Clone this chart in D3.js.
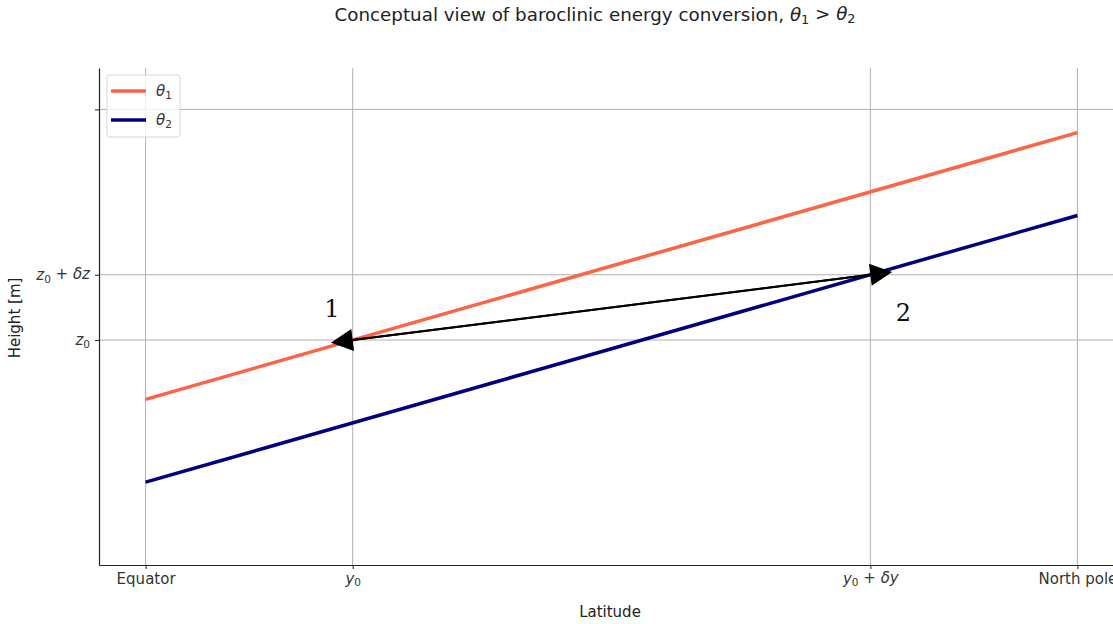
<meta charset="UTF-8">
<head>
  <script src="https://d3js.org/d3.v7.min.js"></script>
  <style>
    body { margin: 0; background: #fff; }
    svg { font-family: "DejaVu Sans", sans-serif; }
  </style>
</head>
<body>
<svg id="svg" width="1113" height="624"></svg>
<script>
  // data (latitude in degrees, height in arbitrary units)
  const latitude = [0, 90];
  const theta1 = [5, 13.05];
  const theta2 = [2.5, 10.55];
  const xTicks = [0, 20, 70, 90];
  const xTickLabels = [["Equator"], ["y", "0"], ["y", "0", " + δy"], ["North pole"]];
  const yTicks = [6.79, 8.76, 13.75];
  const yTickLabels = [["z", "0"], ["z", "0", " + δz"], [""]];
  // arrows: [from latitude, from height, to latitude, to height]
  const arrows = [[20, 6.79, 70, 8.76], [70, 8.76, 20, 6.79]];
  const pointLabels = ["1", "2"];
  const pointLabelPos = [[18, 7.69], [73.2, 7.57]];

  const svg = d3.select("#svg");
  const x = d3.scaleLinear().domain([-4.5, 94.5]).range([99, 1124]);
  const y = d3.scaleLinear().domain([0, 15]).range([565, 68]);

  // grid
  svg.append("g").selectAll("line").data(xTicks).join("line")
    .attr("x1", d => x(d)).attr("x2", d => x(d))
    .attr("y1", y(15)).attr("y2", y(0))
    .attr("stroke", "#b0b0b0").attr("stroke-width", 1);
  svg.append("g").selectAll("line").data(yTicks).join("line")
    .attr("x1", x(-4.5)).attr("x2", x(94.5))
    .attr("y1", d => y(d)).attr("y2", d => y(d))
    .attr("stroke", "#b0b0b0").attr("stroke-width", 1);

  // math-ish labels: italic letter, subscript, rest
  function mathLabel(sel, parts) {
    sel.text(null);
    if (parts.length === 1) { sel.text(parts[0]); return; }
    sel.append("tspan").attr("font-style", "italic").text(parts[0]);
    sel.append("tspan").attr("font-size", "0.7em").attr("dy", "0.25em").text(parts[1]);
    if (parts[2]) {
      const rest = parts[2];
      sel.append("tspan").attr("dy", "-0.25em").text(rest.slice(0, 3));
      sel.append("tspan").attr("font-style", "italic").text(rest.slice(3));
    }
  }

  // axes
  const xAxis = svg.append("g").attr("transform", `translate(0,${y(0)})`)
    .call(d3.axisBottom(x).tickValues(xTicks).tickSizeInner(4).tickSizeOuter(0).tickPadding(4))
    .attr("font-size", 15).attr("font-family", "DejaVu Sans");
  xAxis.select(".domain").attr("stroke", "#222").attr("stroke-width", 1.2);
  xAxis.selectAll(".tick line").attr("stroke", "#222");
  xAxis.selectAll(".tick text").attr("fill", "#333")
    .each(function (d, i) { mathLabel(d3.select(this), xTickLabels[i]); });

  const yAxis = svg.append("g").attr("transform", `translate(${x(-4.5)},0)`)
    .call(d3.axisLeft(y).tickValues(yTicks).tickSizeInner(4).tickSizeOuter(0).tickPadding(5))
    .attr("font-size", 15).attr("font-family", "DejaVu Sans");
  yAxis.select(".domain").attr("stroke", "#222").attr("stroke-width", 1.2);
  yAxis.selectAll(".tick line").attr("stroke", "#222");
  yAxis.selectAll(".tick text").attr("fill", "#333")
    .each(function (d, i) { mathLabel(d3.select(this), yTickLabels[i]); });

  // lines
  const line = d3.line().x(d => x(d[0])).y(d => y(d[1]));
  svg.append("path").datum(d3.zip(latitude, theta1)).attr("d", line)
    .attr("fill", "none").attr("stroke", "#ff6347").attr("stroke-width", 3.5);
  svg.append("path").datum(d3.zip(latitude, theta2)).attr("d", line)
    .attr("fill", "none").attr("stroke", "#000080").attr("stroke-width", 3.5);

  // arrows (head drawn past the end point)
  const headLen = 22, headW = 22;
  arrows.forEach(a => {
    const x0 = x(a[0]), y0 = y(a[1]), x1 = x(a[2]), y1 = y(a[3]);
    const L = Math.hypot(x1 - x0, y1 - y0), ux = (x1 - x0) / L, uy = (y1 - y0) / L;
    svg.append("line").attr("x1", x0).attr("y1", y0).attr("x2", x1).attr("y2", y1)
      .attr("stroke", "#000").attr("stroke-width", 2);
    const tip = [x1 + ux * headLen, y1 + uy * headLen];
    const b1 = [x1 - uy * headW / 2, y1 + ux * headW / 2];
    const b2 = [x1 + uy * headW / 2, y1 - ux * headW / 2];
    svg.append("polygon").attr("points", [tip, b1, b2].map(p => p.join(",")).join(" "))
      .attr("fill", "#000");
  });

  svg.selectAll(".plabel").data(pointLabels).join("text")
    .attr("x", (d, i) => x(pointLabelPos[i][0])).attr("y", (d, i) => y(pointLabelPos[i][1]))
    .attr("text-anchor", "middle").attr("dominant-baseline", "middle")
    .style("font-family", "'DejaVu Serif', serif").style("font-size", "24px").attr("fill", "#111")
    .text(d => d);

  // title and axis labels
  svg.append("text").attr("x", 595).attr("y", 21).attr("text-anchor", "middle")
    .style("font-size", "18.3px").attr("fill", "#222")
    .call(t => {
      t.append("tspan").text("Conceptual view of baroclinic energy conversion, ");
      t.append("tspan").attr("font-style", "italic").text("θ");
      t.append("tspan").attr("font-size", "0.7em").attr("dy", "0.25em").text("1");
      t.append("tspan").attr("dy", "-0.25em").text(" > ");
      t.append("tspan").attr("font-style", "italic").text("θ");
      t.append("tspan").attr("font-size", "0.7em").attr("dy", "0.25em").text("2");
    });
  svg.append("text").attr("x", 610).attr("y", 617).attr("text-anchor", "middle")
    .style("font-size", "15px").attr("fill", "#222").text("Latitude");
  svg.append("text").attr("transform", "translate(20,318) rotate(-90)").attr("text-anchor", "middle")
    .style("font-size", "15px").attr("fill", "#222").text("Height [m]");

  // legend
  const legend = svg.append("g").attr("transform", "translate(107,75)");
  legend.append("rect").attr("width", 73).attr("height", 62).attr("rx", 3)
    .attr("fill", "#fff").attr("fill-opacity", 0.8).attr("stroke", "#d8d8d8");
  [["#ff6347", "1"], ["#000080", "2"]].forEach((e, i) => {
    const g = legend.append("g").attr("transform", `translate(0,${16 + i * 29})`);
    g.append("line").attr("x1", 4).attr("x2", 39).attr("stroke", e[0]).attr("stroke-width", 3.5);
    const t = g.append("text").attr("x", 49).attr("dy", "0.35em").style("font-size", "15px").attr("fill", "#333");
    t.append("tspan").attr("font-style", "italic").text("θ");
    t.append("tspan").attr("font-size", "0.7em").attr("dy", "0.25em").text(e[1]);
  });
</script>
</body>
